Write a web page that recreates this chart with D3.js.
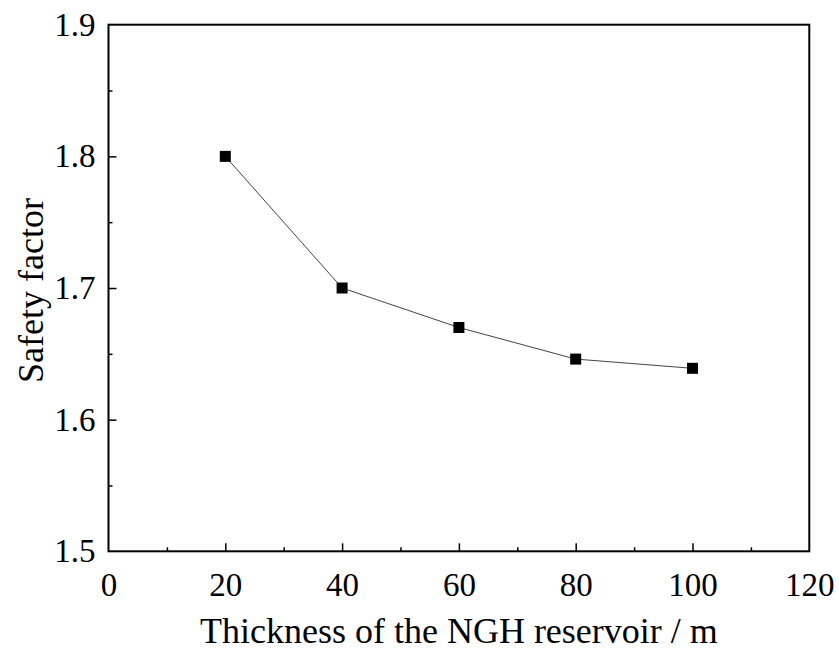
<!DOCTYPE html>
<html>
<head>
<meta charset="utf-8">
<script src="https://cdn.jsdelivr.net/npm/d3@7"></script>
<style>
  html, body { margin: 0; padding: 0; background: #fff; }
  svg { display: block; }
  text { font-family: "Liberation Serif", "Times New Roman", serif; fill: #000; }
</style>
</head>
<body>
<svg id="chart" width="839" height="650"></svg>
<script>
const thickness = [20, 40, 60, 80, 100];
const safetyFactor = [1.8, 1.7, 1.67, 1.646, 1.639];
const xTicks = [0, 20, 40, 60, 80, 100, 120];
const yTicks = [1.5, 1.6, 1.7, 1.8, 1.9];
const xTitle = "Thickness of the NGH reservoir / m";
const yTitle = "Safety factor";

const svg = d3.select("#chart");
const mLeft = 108.5, mRight = 809.3, mTop = 24.7, mBottom = 551.3;

const x = d3.scaleLinear().domain([0, 120]).range([mLeft, mRight]);
const y = d3.scaleLinear().domain([1.5, 1.9]).range([mBottom, mTop]);

// frame
svg.append("rect")
  .attr("x", mLeft).attr("y", mTop)
  .attr("width", mRight - mLeft).attr("height", mBottom - mTop)
  .attr("fill", "none").attr("stroke", "#000").attr("stroke-width", 2);

// x axis ticks (inward)
const xMinor = d3.range(10, 120, 20);
const xAxis = d3.axisBottom(x).tickValues(xTicks).tickSizeInner(-8).tickSizeOuter(0).tickPadding(21).tickFormat(d3.format("d"));
const gx = svg.append("g").attr("transform", `translate(0,${mBottom})`).call(xAxis);
gx.select(".domain").remove();
gx.selectAll(".tick line").attr("stroke", "#000").attr("stroke-width", 1.5);
gx.selectAll(".tick text").attr("font-size", 33).attr("font-family", "Liberation Serif").attr("dy", "0.71em");
gx.selectAll(".tick").filter(d => d === 0 || d === 120).select("line").remove();
const xMinorAxis = d3.axisBottom(x).tickValues(xMinor).tickSizeInner(-4).tickSizeOuter(0).tickFormat("");
const gxm = svg.append("g").attr("transform", `translate(0,${mBottom})`).call(xMinorAxis);
gxm.select(".domain").remove();
gxm.selectAll(".tick line").attr("stroke", "#000").attr("stroke-width", 1.5);

// y axis ticks (inward)
const yMinor = [1.55, 1.65, 1.75, 1.85];
const yAxis = d3.axisLeft(y).tickValues(yTicks).tickSizeInner(-8).tickSizeOuter(0).tickPadding(13).tickFormat(d3.format(".1f"));
const gy = svg.append("g").attr("transform", `translate(${mLeft},0)`).call(yAxis);
gy.select(".domain").remove();
gy.selectAll(".tick line").attr("stroke", "#000").attr("stroke-width", 1.5);
gy.selectAll(".tick text").attr("font-size", 33).attr("font-family", "Liberation Serif");
gy.selectAll(".tick").filter(d => d === 1.5 || d === 1.9).select("line").remove();
const yMinorAxis = d3.axisLeft(y).tickValues(yMinor).tickSizeInner(-4).tickSizeOuter(0).tickFormat("");
const gym = svg.append("g").attr("transform", `translate(${mLeft},0)`).call(yMinorAxis);
gym.select(".domain").remove();
gym.selectAll(".tick line").attr("stroke", "#000").attr("stroke-width", 1.5);

// line
const data = thickness.map((t, i) => ({ t, v: safetyFactor[i] }));
svg.append("path")
  .datum(data)
  .attr("fill", "none").attr("stroke", "#444").attr("stroke-width", 1)
  .attr("d", d3.line().x(d => x(d.t)).y(d => y(d.v)));

// markers
const ms = 11;
svg.selectAll("rect.pt").data(data).enter().append("rect")
  .attr("class", "pt")
  .attr("x", d => x(d.t) - ms / 2).attr("y", d => y(d.v) - ms / 2)
  .attr("width", ms).attr("height", ms).attr("fill", "#000");

// titles
svg.append("text")
  .attr("x", (mLeft + mRight) / 2).attr("y", 643)
  .attr("text-anchor", "middle").attr("font-size", 36)
  .text(xTitle);
svg.append("text")
  .attr("transform", `translate(43,290.5) rotate(-90)`)
  .attr("text-anchor", "middle").attr("font-size", 36)
  .text(yTitle);
</script>
</body>
</html>
